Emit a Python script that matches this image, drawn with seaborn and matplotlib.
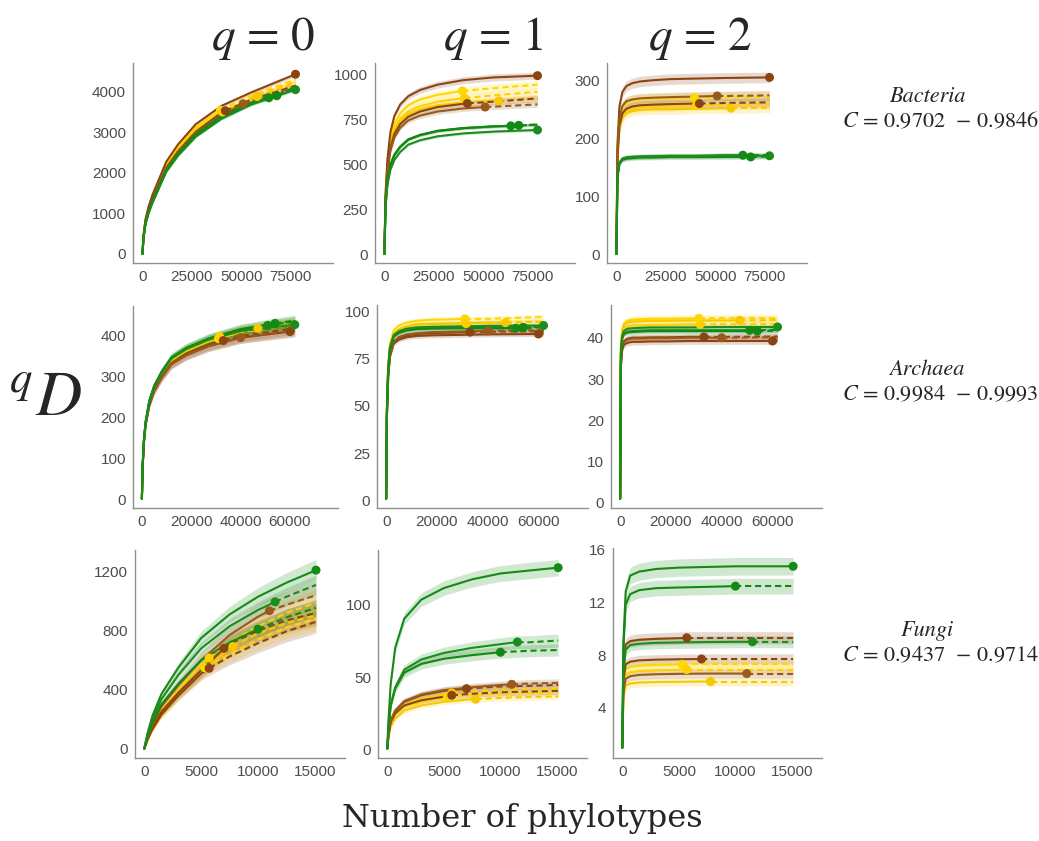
import numpy as np
import pandas as pd
import matplotlib
matplotlib.use("Agg")
import matplotlib.pyplot as plt
import seaborn as sns

# samples (3 yellow, 3 brown, 3 green sites)
SAMPLES = ["Y1", "Y2", "Y3", "B1", "B2", "B3", "G1", "G2", "G3"]
COLORS = {"Y1": "#FFD700", "Y2": "#FFCF00", "Y3": "#F7C800",
          "B1": "#8B4513", "B2": "#8B4513", "B3": "#9A5A1C",
          "G1": "#168A16", "G2": "#138813", "G3": "#1C8C1C"}

# ---- Bacteria ----
BACT_X = [0, 500, 1500, 3000, 5000, 8000, 12000, 18000, 27000, 40000, 55000, 77500]
BACT_N = [39500, 40500, 58000, 77500, 42000, 51000, 64000, 68000, 77500]
BACT_Q0 = [
    [1, 430, 820, 1120, 1410, 1760, 2220, 2640, 3130, 3560, 3900, 4300],
    [1, 420, 800, 1080, 1370, 1710, 2170, 2590, 3070, 3500, 3850, 4250],
    [1, 415, 790, 1070, 1350, 1690, 2150, 2560, 3040, 3480, 3820, 4200],
    [1, 450, 850, 1150, 1450, 1800, 2270, 2700, 3200, 3650, 3980, 4430],
    [1, 410, 780, 1050, 1330, 1670, 2120, 2530, 3010, 3480, 3800, 4150],
    [1, 400, 765, 1030, 1310, 1650, 2100, 2500, 2980, 3420, 3750, 4130],
    [1, 390, 740, 1000, 1270, 1600, 2050, 2450, 2920, 3360, 3700, 4080],
    [1, 395, 750, 1010, 1290, 1620, 2070, 2470, 2950, 3390, 3730, 4120],
    [1, 380, 730, 990, 1250, 1580, 2020, 2420, 2890, 3330, 3680, 4050],
]
BACT_Q0_DOT = [3540, 3500, 3880, 4430, 3530, 3700, 3850, 3900, 4050]
BACT_Q0_CI = [0.015, 0.015, 0.015, 0.012, 0.012, 0.012, 0.01, 0.01, 0.01]
BACT_Q1 = [
    [1, 310, 500, 640, 725, 785, 830, 862, 888, 910, 925, 945],
    [1, 300, 485, 620, 700, 755, 795, 825, 850, 870, 885, 905],
    [1, 295, 475, 605, 685, 740, 780, 808, 830, 845, 853, 870],
    [1, 330, 530, 680, 770, 835, 880, 915, 945, 970, 985, 995],
    [1, 290, 465, 590, 670, 725, 765, 795, 820, 838, 850, 868],
    [1, 285, 455, 575, 650, 705, 745, 772, 795, 812, 822, 835],
    [1, 270, 410, 500, 555, 600, 640, 665, 688, 703, 712, 722],
    [1, 265, 405, 495, 550, 597, 637, 663, 686, 702, 712, 722],
    [1, 255, 385, 470, 525, 570, 610, 635, 657, 673, 683, 692],
]
BACT_Q1_DOT = [910, 870, 855, 995, 840, 820, 715, 718, 692]
BACT_Q1_CI = [0.025, 0.025, 0.025, 0.02, 0.02, 0.02, 0.012, 0.012, 0.012]
BACT_Q2 = [
    [1, 175, 232, 253, 261, 265, 267, 268, 269, 270, 271, 272],
    [1, 165, 220, 240, 248, 252, 254, 255, 256, 257, 258, 259],
    [1, 162, 215, 235, 243, 247, 249, 250, 250, 251, 252, 253],
    [1, 190, 255, 280, 290, 295, 298, 300, 302, 303, 304, 305],
    [1, 168, 222, 243, 251, 255, 257, 258, 259, 260, 261, 262],
    [1, 178, 235, 256, 264, 267, 269, 270, 271, 272, 273, 274],
    [1, 135, 158, 165, 167, 168, 169, 169, 170, 170, 171, 171],
    [1, 133, 156, 163, 165, 166, 167, 167, 168, 168, 168, 169],
    [1, 135, 158, 165, 167, 168, 168, 169, 169, 169, 170, 170],
]
BACT_Q2_DOT = [270, 257, 252, 305, 260, 273, 171, 168, 170]
BACT_Q2_CI = [0.035, 0.035, 0.035, 0.03, 0.03, 0.03, 0.025, 0.025, 0.025]

# ---- Archaea ----
ARCH_X = [0, 300, 800, 1500, 3000, 5000, 8000, 12000, 18000, 27000, 40000, 62000]
ARCH_N = [31000, 31500, 47000, 60000, 33000, 40000, 51000, 54000, 62000]
ARCH_Q0 = [
    [1, 80, 140, 186, 236, 272, 305, 340, 363, 386, 408, 428],
    [1, 81, 141, 187, 237, 274, 307, 342, 365, 388, 410, 432],
    [1, 80, 140, 186, 236, 273, 306, 341, 364, 387, 409, 430],
    [1, 78, 137, 182, 230, 265, 297, 330, 352, 374, 395, 412],
    [1, 78, 138, 183, 232, 267, 300, 333, 356, 378, 399, 418],
    [1, 77, 136, 181, 230, 265, 298, 331, 353, 375, 395, 413],
    [1, 82, 142, 188, 240, 277, 311, 346, 369, 392, 414, 434],
    [1, 82, 143, 189, 241, 278, 312, 347, 370, 393, 416, 437],
    [1, 81, 141, 187, 238, 275, 309, 344, 367, 390, 411, 427],
]
ARCH_Q0_DOT = [393, 398, 418, 410, 388, 395, 425, 430, 427]
ARCH_Q0_CI = [0.03, 0.03, 0.03, 0.035, 0.035, 0.035, 0.03, 0.03, 0.03]
ARCH_Q1 = [
    [1, 50, 72, 83, 90, 92.5, 94, 95, 95.5, 95.8, 96, 97],
    [1, 48, 70, 81, 88, 90.5, 92, 93, 93.3, 93.5, 94, 94.5],
    [1, 48, 70, 81, 88, 90.5, 92, 93, 93.4, 93.6, 94, 94.5],
    [1, 44, 65, 76, 83, 85, 86.3, 87, 87.3, 87.5, 87.8, 88.2],
    [1, 45, 66, 77, 84, 86, 87.3, 88, 88.5, 88.8, 89.2, 89.5],
    [1, 45, 66, 77, 84, 86.5, 87.8, 88.5, 89, 89.3, 89.6, 90],
    [1, 47, 69, 80, 86.5, 88.5, 89.8, 90.5, 90.8, 91, 91, 91.5],
    [1, 47, 69, 80, 87, 89, 90.3, 91, 91.3, 91.5, 91.5, 92],
    [1, 48, 70, 81, 87.5, 89.5, 90.8, 91.5, 91.8, 92, 92.3, 92.5],
]
ARCH_Q1_DOT = [96, 93.5, 94, 88, 89, 89.6, 91, 91.5, 92.5]
ARCH_Q1_CI = [0.015, 0.015, 0.015, 0.015, 0.015, 0.015, 0.012, 0.012, 0.012]
ARCH_Q2 = [
    [1, 38, 42, 43.5, 44.2, 44.4, 44.5, 44.6, 44.6, 44.7, 44.8, 44.8],
    [1, 37, 41, 42.3, 42.8, 43, 43, 43.1, 43.1, 43.2, 43.3, 43.3],
    [1, 37.5, 41.5, 43, 43.7, 43.9, 44, 44.1, 44.1, 44.2, 44.2, 44.3],
    [1, 33, 37, 38.3, 38.8, 39, 39, 39.1, 39.1, 39.2, 39.2, 39.3],
    [1, 34, 38, 39.2, 39.8, 40, 40, 40.1, 40.1, 40.2, 40.2, 40.3],
    [1, 34, 37.8, 39, 39.6, 39.8, 39.8, 39.9, 39.9, 40.0, 40.0, 40.1],
    [1, 36, 40, 41, 41.5, 41.6, 41.7, 41.8, 41.8, 41.8, 41.8, 41.9],
    [1, 36, 39.8, 40.9, 41.3, 41.4, 41.5, 41.6, 41.6, 41.6, 41.6, 41.7],
    [1, 36.5, 40.5, 41.7, 42.2, 42.3, 42.4, 42.5, 42.5, 42.5, 42.6, 42.6],
]
ARCH_Q2_DOT = [44.7, 43.2, 44.2, 39.2, 40.2, 40.0, 41.8, 41.6, 42.6]
ARCH_Q2_CI = [0.02, 0.02, 0.02, 0.02, 0.02, 0.02, 0.015, 0.015, 0.015]

# ---- Fungi ----
FUNG_X = [0, 100, 300, 700, 1500, 3000, 5000, 7500, 10000, 12500, 15100]
FUNG_N = [5300, 5700, 7800, 5700, 7000, 11000, 15100, 10000, 11500]
FUNG_Q0 = [
    [1, 20, 60, 125, 225, 360, 520, 640, 740, 820, 880],
    [1, 25, 70, 145, 260, 400, 570, 720, 830, 920, 990],
    [1, 22, 65, 135, 240, 370, 520, 680, 780, 850, 905],
    [1, 22, 65, 130, 230, 360, 510, 625, 715, 795, 860],
    [1, 25, 70, 140, 250, 380, 530, 710, 800, 870, 920],
    [1, 28, 80, 160, 285, 430, 600, 770, 895, 975, 1040],
    [1, 40, 110, 220, 370, 550, 750, 910, 1030, 1125, 1210],
    [1, 32, 90, 175, 300, 440, 600, 720, 810, 890, 955],
    [1, 36, 100, 195, 335, 500, 680, 830, 940, 1030, 1110],
]
FUNG_Q0_DOT = [550, 615, 692, 545, 680, 935, 1210, 810, 995]
FUNG_Q0_CI = [0.09, 0.09, 0.09, 0.09, 0.09, 0.09, 0.06, 0.06, 0.06]
FUNG_Q1 = [
    [1, 9, 18, 24, 29.5, 33, 35.8, 37.5, 38.5, 39, 39.5],
    [1, 9.5, 18.5, 25, 31, 35, 38, 40, 41, 41.5, 42],
    [1, 8, 16, 21.5, 27, 30.5, 33, 34.8, 35.7, 36.3, 36.7],
    [1, 10, 19, 25, 30.5, 34, 36.5, 38.5, 39.5, 40, 40.5],
    [1, 10, 20, 27, 33, 37.5, 40.5, 42.3, 43.5, 44, 44.5],
    [1, 10, 20, 27, 33.5, 38, 41, 43, 44.5, 45.5, 46],
    [1, 20, 45, 70, 90, 103, 111, 117, 121, 123, 125],
    [1, 14, 30, 42, 53, 59, 62.5, 65, 67, 68, 68.5],
    [1, 14, 31, 43, 55, 62, 66.5, 70, 72.5, 73.8, 75],
]
FUNG_Q1_DOT = [36.5, 39, 34.7, 37.5, 42, 45, 125, 67, 74]
FUNG_Q1_CI = [0.06, 0.06, 0.06, 0.06, 0.06, 0.06, 0.045, 0.06, 0.06]
FUNG_Q2 = [
    [1, 5.6, 6.9, 7.1, 7.2, 7.25, 7.28, 7.3, 7.3, 7.3, 7.3],
    [1, 5.4, 6.5, 6.7, 6.8, 6.85, 6.88, 6.9, 6.9, 6.9, 6.9],
    [1, 4.8, 5.7, 5.85, 5.92, 5.96, 5.98, 6.0, 6.0, 6.0, 6.0],
    [1, 7, 8.8, 9.05, 9.15, 9.22, 9.27, 9.3, 9.3, 9.3, 9.3],
    [1, 6, 7.3, 7.5, 7.6, 7.65, 7.68, 7.7, 7.7, 7.7, 7.7],
    [1, 5.2, 6.2, 6.4, 6.5, 6.55, 6.58, 6.6, 6.6, 6.6, 6.6],
    [1, 9, 12.8, 14.0, 14.3, 14.5, 14.6, 14.65, 14.7, 14.7, 14.7],
    [1, 8.5, 11.8, 12.6, 12.9, 13.05, 13.1, 13.15, 13.2, 13.2, 13.2],
    [1, 6.5, 8.4, 8.75, 8.85, 8.92, 8.95, 8.98, 9.0, 9.0, 9.0],
]
FUNG_Q2_DOT = [7.3, 6.9, 6.0, 9.3, 7.7, 6.6, 14.7, 13.2, 9.0]
FUNG_Q2_CI = [0.055, 0.055, 0.055, 0.05, 0.05, 0.05, 0.045, 0.045, 0.05]

Q_TITLES = ["$q$ = 0", "$q$ = 1", "$q$ = 2"]
ROW_NAMES = ["Bacteria", "Archaea", "Fungi"]
ROW_COVERAGE = ["0.9702", "0.9846", "0.9984", "0.9993", "0.9437", "0.9714"]

# panel boxes in pixels: left, top, right, bottom
W, H = 1039, 841
BOXES = [
    [(133, 63, 333, 263), (375, 63, 575, 263), (607, 63, 807, 263)],
    [(133, 306, 338, 508), (377, 305, 588, 508), (611, 305, 822, 508)],
    [(135, 550, 345, 758), (378, 550, 587, 758), (613, 548, 822, 758)],
]
XLIMS = [(-4800, 96500), (-3600, 79500), (-820, 17650)]
XTICKS = [[0, 25000, 50000, 75000], [0, 20000, 40000, 60000], [0, 5000, 10000, 15000]]
YTICKS = [
    [[0, 1000, 2000, 3000, 4000], [0, 250, 500, 750, 1000], [0, 100, 200, 300]],
    [[0, 100, 200, 300, 400], [0, 25, 50, 75, 100], [0, 10, 20, 30, 40]],
    [[0, 400, 800, 1200], [0, 50, 100], [4, 8, 12, 16]],
]

ROWS = [
    (BACT_X, BACT_N, [(BACT_Q0, BACT_Q0_DOT, BACT_Q0_CI), (BACT_Q1, BACT_Q1_DOT, BACT_Q1_CI),
                      (BACT_Q2, BACT_Q2_DOT, BACT_Q2_CI)]),
    (ARCH_X, ARCH_N, [(ARCH_Q0, ARCH_Q0_DOT, ARCH_Q0_CI), (ARCH_Q1, ARCH_Q1_DOT, ARCH_Q1_CI),
                      (ARCH_Q2, ARCH_Q2_DOT, ARCH_Q2_CI)]),
    (FUNG_X, FUNG_N, [(FUNG_Q0, FUNG_Q0_DOT, FUNG_Q0_CI), (FUNG_Q1, FUNG_Q1_DOT, FUNG_Q1_CI),
                      (FUNG_Q2, FUNG_Q2_DOT, FUNG_Q2_CI)]),
]

sns.set_style("white")
plt.rcParams["font.family"] = ["Liberation Sans", "DejaVu Sans"]
plt.rcParams["mathtext.fontset"] = "stix"
plt.rcParams["xtick.labelsize"] = 11
plt.rcParams["ytick.labelsize"] = 11
AXCOL = "#8F8F8F"
TXTCOL = "#4D4D4D"


def build_frames(grid, sizes, curves, dots):
    rows, pts = [], []
    for s, n, ys, d in zip(SAMPLES, sizes, curves, dots):
        for x, y in zip(grid, ys):
            if x < n:
                rows.append((s, "obs", x, y))
        rows.append((s, "obs", n, d))
        rows.append((s, "ext", n, d))
        for x, y in zip(grid, ys):
            if x > n:
                rows.append((s, "ext", x, y))
        pts.append((s, n, d))
    lines = pd.DataFrame(rows, columns=["sample", "part", "x", "y"])
    dots_df = pd.DataFrame(pts, columns=["sample", "x", "y"])
    return lines, dots_df


def draw_panel(ax, grid, sizes, curves, dots, ci):
    lines, dots_df = build_frames(grid, sizes, curves, dots)
    lo_all, hi_all = [], []
    for s, c in zip(SAMPLES, ci):
        sub = lines[lines["sample"] == s].drop_duplicates(subset="x")
        x = sub["x"].to_numpy(float)
        y = sub["y"].to_numpy(float)
        w = c * y
        ax.fill_between(x, y - w, y + w, color=COLORS[s], alpha=0.2, lw=0)
        lo_all.append((y - w).min())
        hi_all.append((y + w).max())
    sns.lineplot(data=lines, x="x", y="y", hue="sample", style="part",
                 hue_order=SAMPLES, palette=COLORS,
                 dashes={"obs": "", "ext": (3, 1.8)}, style_order=["obs", "ext"],
                 estimator=None, sort=False, legend=False, lw=1.5, ax=ax)
    sns.scatterplot(data=dots_df, x="x", y="y", hue="sample", hue_order=SAMPLES,
                    palette=COLORS, s=42, edgecolor="none", legend=False, ax=ax, zorder=5)
    lo, hi = min(lo_all), max(hi_all)
    pad = 0.05 * (hi - lo)
    ax.set_ylim(lo - pad, hi + pad)


fig = plt.figure(figsize=(W / 100, H / 100), dpi=100)
for r, (grid, sizes, panels) in enumerate(ROWS):
    for c, (curves, dots, ci) in enumerate(panels):
        l, t, rr, b = BOXES[r][c]
        ax = fig.add_axes([l / W, 1 - b / H, (rr - l) / W, (b - t) / H])
        draw_panel(ax, grid, sizes, curves, dots, ci)
        ax.set_xlim(*XLIMS[r])
        ax.set_xticks(XTICKS[r])
        ax.set_yticks(YTICKS[r][c])
        ax.set_xlabel("")
        ax.set_ylabel("")
        for sp in ["top", "right"]:
            ax.spines[sp].set_visible(False)
        for sp in ["left", "bottom"]:
            ax.spines[sp].set_color(AXCOL)
            ax.spines[sp].set_linewidth(1.0)
        ax.tick_params(axis="both", length=3, width=0.8, color=AXCOL,
                       labelcolor=TXTCOL, pad=2)

# column headers
for xc, t in zip([263, 493, 700], Q_TITLES):
    fig.text(xc / W, 1 - 38 / H, t, fontsize=34, ha="center", va="center",
             family="STIXGeneral")

# y label
fig.text(45 / W, 1 - 398 / H, r"${}^{q}D$", fontsize=46, ha="center", va="center")

# x label
fig.text(522 / W, 1 - 818 / H, "Number of phylotypes", fontsize=23,
         family="DejaVu Serif", ha="center", va="center")

# row labels
for i, (name, yc) in enumerate(zip(ROW_NAMES, [97, 370, 631])):
    fig.text(927 / W, 1 - yc / H, name, fontsize=16, ha="center", va="center",
             family="STIXGeneral", style="italic")
    cov = "$C$ = " + ROW_COVERAGE[2 * i] + "  $-$ " + ROW_COVERAGE[2 * i + 1]
    fig.text(940 / W, 1 - (yc + 25) / H, cov, fontsize=16, ha="center", va="center",
             family="STIXGeneral")

fig.savefig("out.png", dpi=100)
